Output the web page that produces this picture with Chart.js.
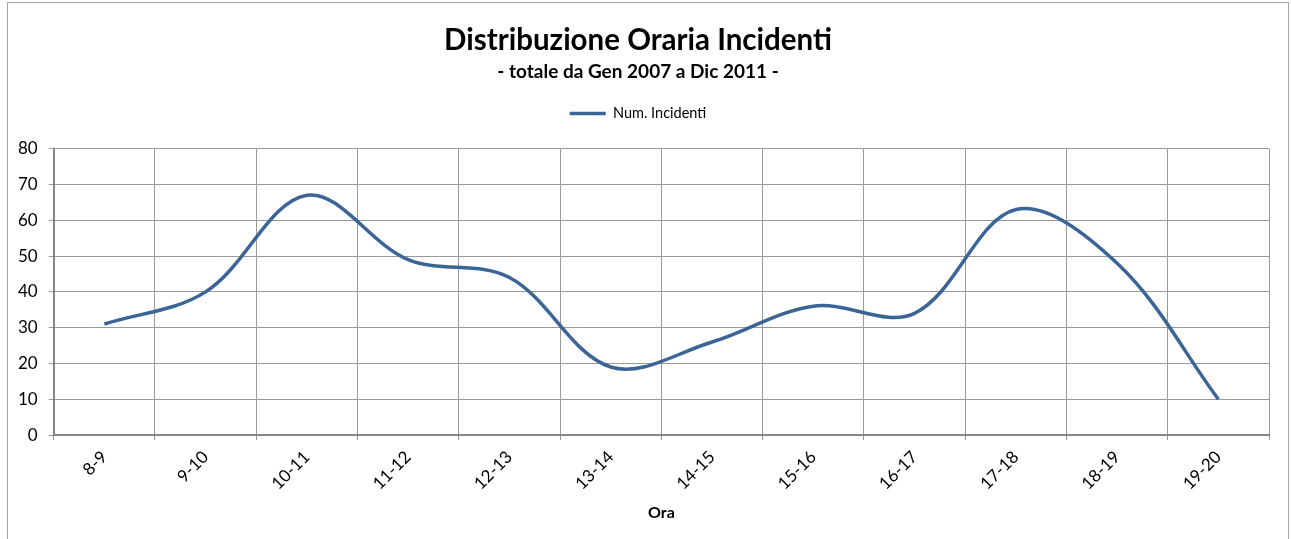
<!DOCTYPE html>
<html>
<head>
<meta charset="utf-8">
<script src="https://cdn.jsdelivr.net/npm/chart.js@4.4.1/dist/chart.umd.min.js"></script>
<style>
  body { margin: 0; background: #fff; }
  #cornice { position: absolute; left: 7px; top: 2px; width: 1280px; height: 600px; border: 1px solid #a6a6a6; }
  #grafico { position: absolute; left: 0; top: 0; }
</style>
</head>
<body>
<div id="cornice"></div>
<canvas id="grafico" width="1291" height="539"></canvas>
<script>
// fasce orarie e numero incidenti (Gen 2007 - Dic 2011)
const ore = ['8-9', '9-10', '10-11', '11-12', '12-13', '13-14', '14-15', '15-16', '16-17', '17-18', '18-19', '19-20']
const incidenti = [31, 40, 67, 49, 44, 19, 26, 36, 34, 63, 48, 10]

const font = 'Lato, "Liberation Sans", sans-serif'
Chart.defaults.font.family = font
Chart.defaults.color = '#000'

// spazio extra sotto la legenda
const spazioLegenda = {
    id: 'spazioLegenda',
    beforeInit(chart) {
        const fit = chart.legend.fit
        chart.legend.fit = function () {
            fit.bind(chart.legend)()
            this.height += 18
        }
    }
}

const ctx = document.getElementById('grafico')

new Chart(ctx, {
    type: 'line',
    data: {
        labels: ore,
        datasets: [{
            label: 'Num. Incidenti',
            data: incidenti,
            borderColor: '#3b6597',
            backgroundColor: '#3b6597',
            borderWidth: 3.5,
            pointRadius: 0,
            tension: 0.35,
            fill: false
        }]
    },
    options: {
        responsive: false,
        animation: false,
        devicePixelRatio: 1,
        layout: { padding: { left: 7, right: 22, top: 0, bottom: 17 } },
        plugins: {
            title: {
                display: true,
                text: 'Distribuzione Oraria Incidenti',
                font: { size: 29.5, weight: 'bold' },
                padding: { top: 23, bottom: 0 }
            },
            subtitle: {
                display: true,
                text: '- totale da Gen 2007 a Dic 2011 -',
                font: { size: 19, weight: 'bold' },
                color: '#000',
                padding: { top: 2, bottom: 14 }
            },
            legend: {
                display: true,
                labels: {
                    usePointStyle: true,
                    pointStyle: 'line',
                    pointStyleWidth: 36,
                    font: { size: 14.5 },
                    padding: 9
                }
            },
            tooltip: { enabled: false }
        },
        scales: {
            x: {
                offset: true,
                grid: { offset: true, color: '#999', tickLength: 5 },
                border: { color: '#868686', width: 2 },
                ticks: { minRotation: 45, maxRotation: 45, autoSkip: false, padding: 7, font: { size: 17 } },
                title: { display: true, text: 'Ora', font: { size: 16, weight: 'bold' }, padding: { top: 2, bottom: 0 } }
            },
            y: {
                min: 0,
                max: 80,
                grid: { color: '#999', tickLength: 5 },
                border: { color: '#868686', width: 2 },
                ticks: { stepSize: 10, padding: 11, font: { size: 17 } }
            }
        }
    },
    plugins: [spazioLegenda]
})
</script>
</body>
</html>
